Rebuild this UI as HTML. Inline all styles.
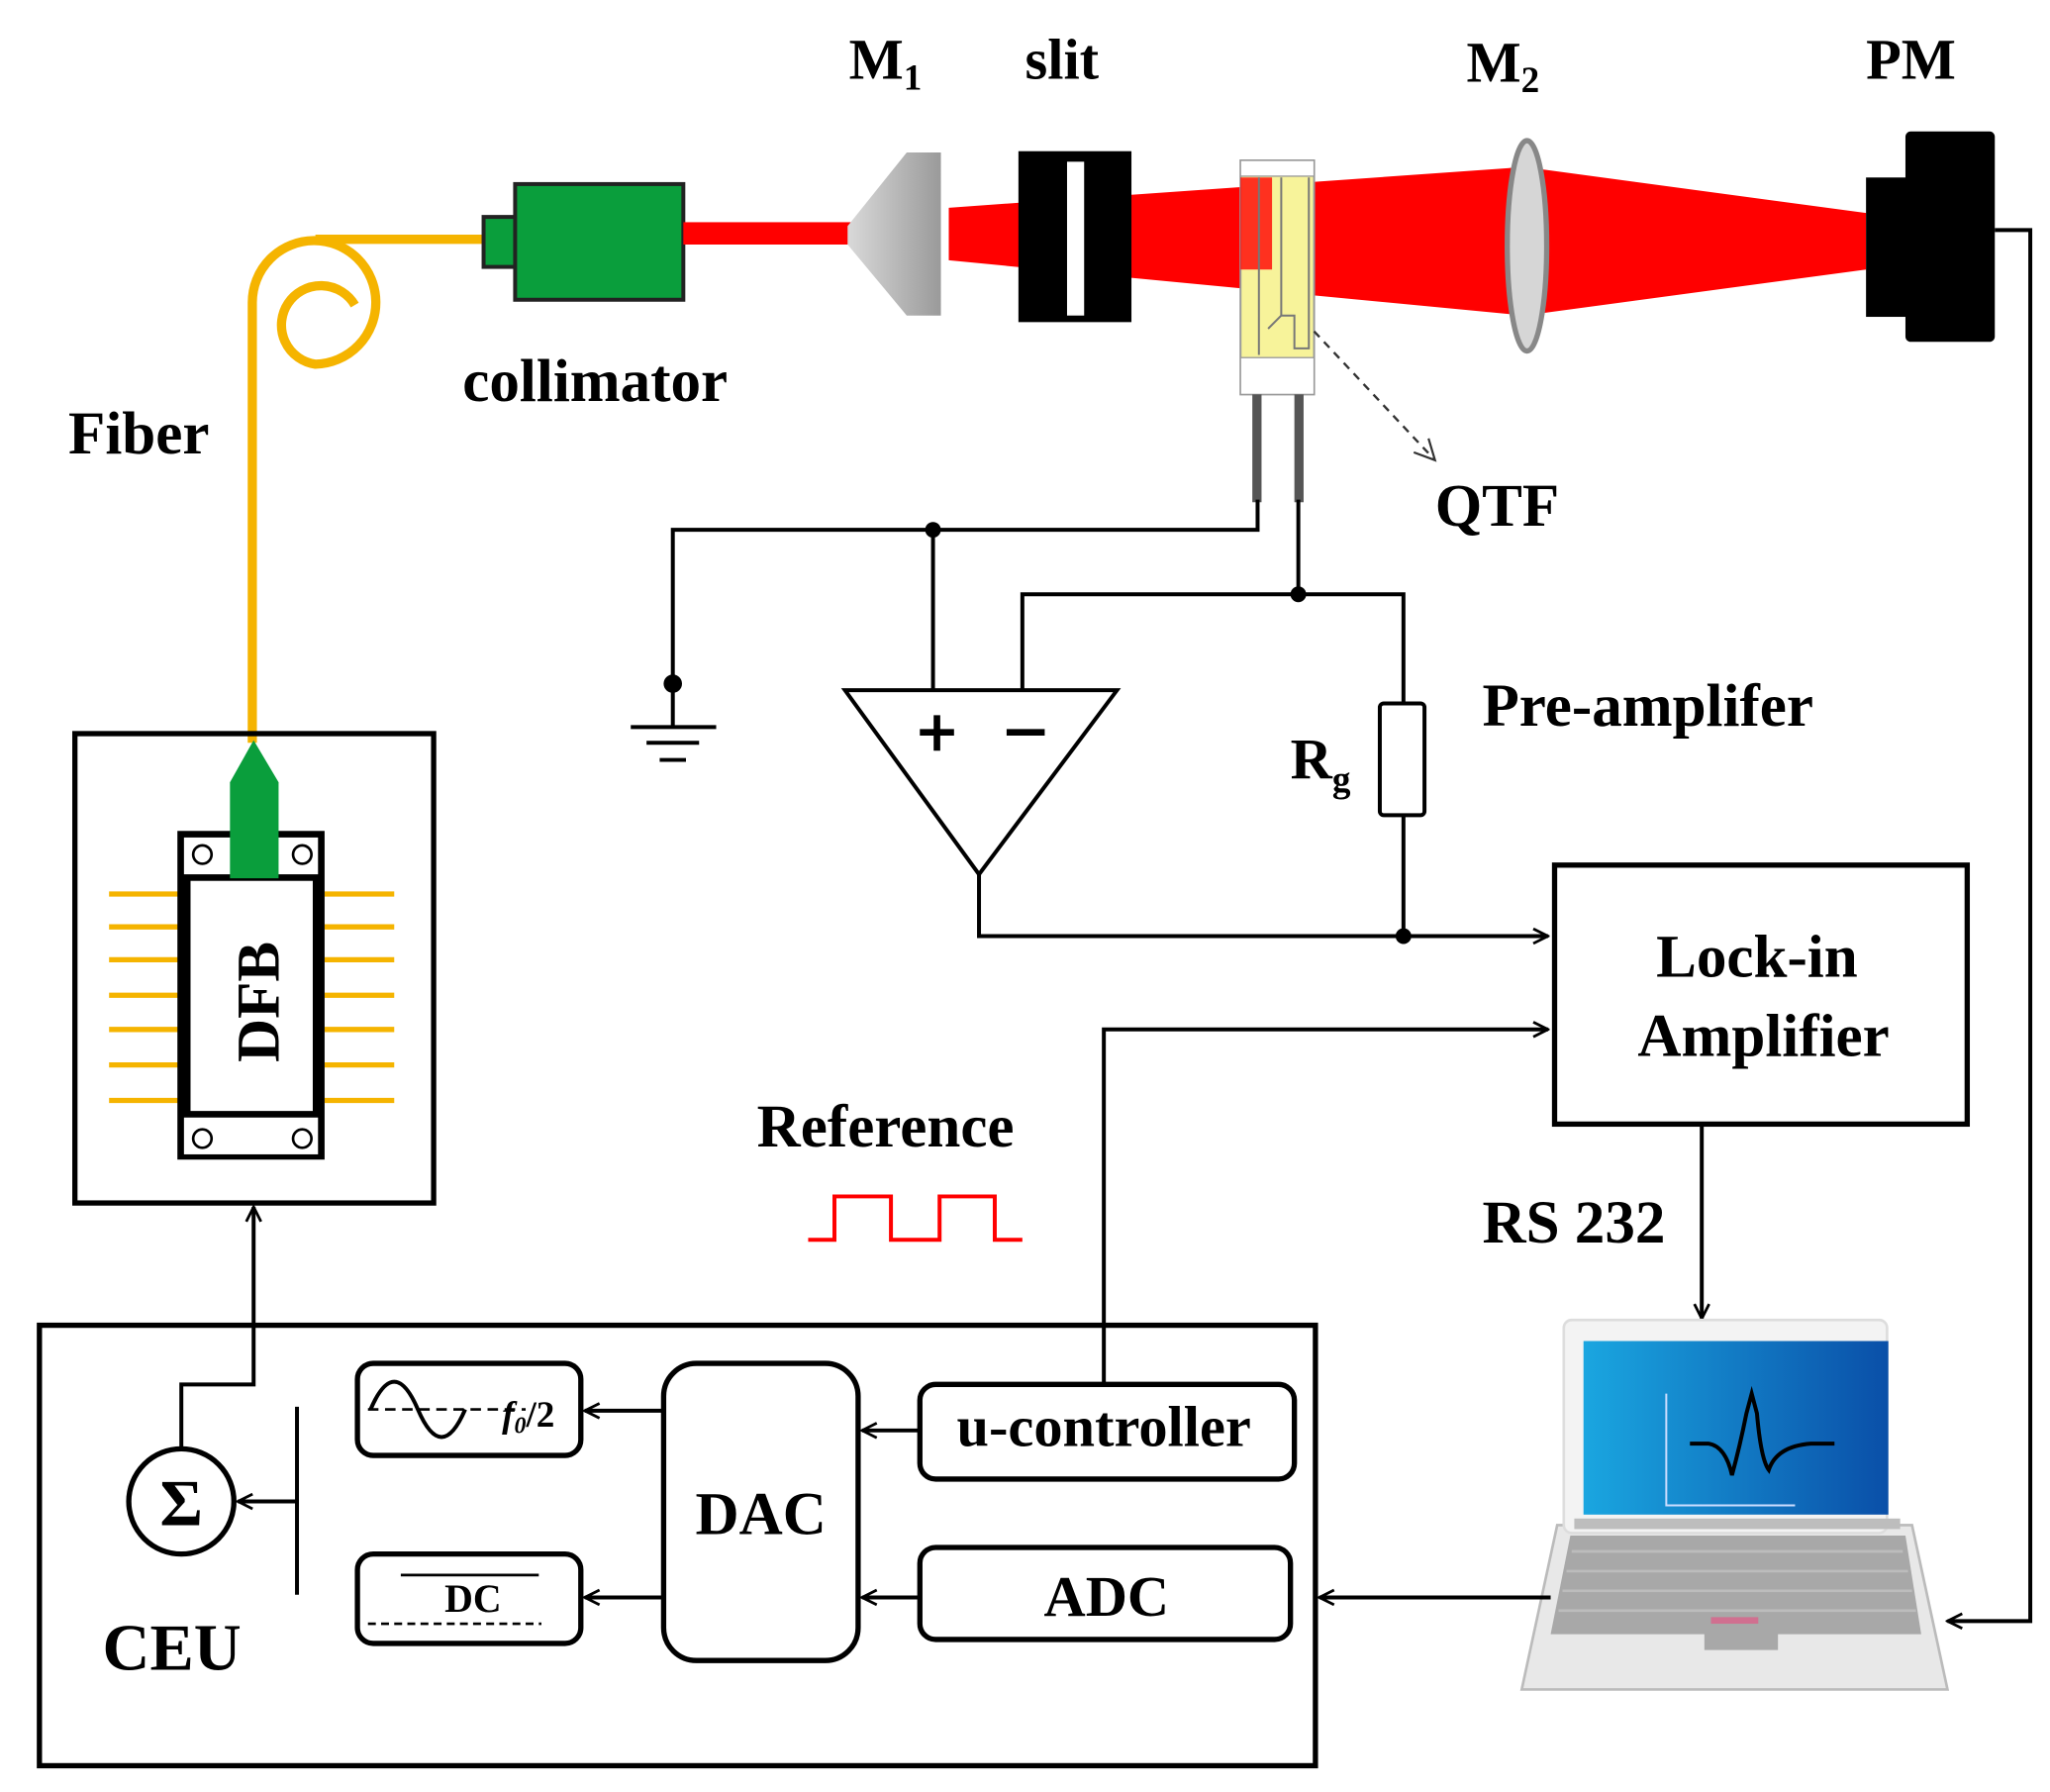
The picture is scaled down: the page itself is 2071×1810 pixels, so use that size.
<!DOCTYPE html>
<html><head><meta charset="utf-8"><style>
html,body{margin:0;padding:0;background:#fff}
svg{display:block}
text{font-family:"Liberation Serif",serif;font-weight:bold;fill:#000}
</style></head><body>
<svg width="2071" height="1810" viewBox="0 0 1560 1363" preserveAspectRatio="none" xmlns="http://www.w3.org/2000/svg">
<defs>
<marker id="ar" viewBox="0 0 20 20" refX="18" refY="10" markerWidth="14" markerHeight="14" markerUnits="userSpaceOnUse" orient="auto">
<polyline points="2,2 18,10 2,18" fill="none" stroke="#000" stroke-width="3"/>
</marker>
<marker id="ard" viewBox="0 0 20 20" refX="18" refY="10" markerWidth="22" markerHeight="22" markerUnits="userSpaceOnUse" orient="auto">
<polyline points="4,3 18,10 4,17" fill="none" stroke="#333" stroke-width="1.5"/>
</marker>
<linearGradient id="scr" x1="0" y1="0" x2="1" y2="0"><stop offset="0" stop-color="#1aa6e0"/><stop offset="1" stop-color="#0a4fa8"/></linearGradient>
<linearGradient id="m1" x1="0" y1="0" x2="1" y2="0"><stop offset="0" stop-color="#d9d9d9"/><stop offset="1" stop-color="#9a9a9a"/></linearGradient>
</defs>

<!-- fiber -->
<g fill="none" stroke="#f5b400" stroke-width="7">
<path d="M192,565 L192,230 A47,47 0 1 1 240,277 A30,30 0 1 1 270,232"/>
<path d="M240,182 L372,182"/>
</g>
<!-- collimator -->
<rect x="368" y="165" width="25" height="38" fill="#0a9e3c" stroke="#222" stroke-width="3"/>
<rect x="392" y="140" width="128" height="88" fill="#0a9e3c" stroke="#222" stroke-width="3"/>
<rect x="520" y="169" width="128" height="17" fill="#f00"/>
<polygon points="645,172 690,116 716,116 716,240 690,240 645,186" fill="url(#m1)"/>
<polygon points="722,158 1160,127 1420,162 1420,205 1160,240 722,198" fill="#f00"/>
<rect x="775" y="115" width="86" height="130" fill="#000"/>
<rect x="812" y="123" width="13" height="117" fill="#fff"/>
<!-- QTF -->
<rect x="944" y="122" width="56" height="178" fill="#f7f39a" stroke="#999" stroke-width="1.5"/>
<rect x="944" y="122" width="56" height="12" fill="#fff" stroke="#999" stroke-width="1"/>
<rect x="944" y="272" width="56" height="28" fill="#fff" stroke="#999" stroke-width="1"/>
<rect x="944" y="135" width="24" height="70" fill="#f00" opacity="0.8"/>
<g stroke="#777" stroke-width="1.5" fill="none">
<path d="M958,135 V270 M975,135 V240 L985,240 V265 L996,265 V135 M965,250 L975,240"/>
</g>
<rect x="953" y="300" width="7" height="82" fill="#555"/>
<rect x="985" y="300" width="7" height="82" fill="#555"/>
<line x1="1000" y1="252" x2="1092" y2="350" stroke="#333" stroke-width="1.8" stroke-dasharray="6,5" marker-end="url(#ard)"/>
<ellipse cx="1162" cy="187" rx="15" ry="80" fill="#d6d6d6" stroke="#888" stroke-width="4"/>
<rect x="1420" y="135" width="32" height="106" fill="#000"/>
<rect x="1450" y="100" width="68" height="160" rx="4" fill="#000"/>

<text x="646" y="60" font-size="44">M<tspan font-size="28" dy="8">1</tspan></text>
<text x="780" y="60" font-size="44">slit</text>
<text x="1116" y="62" font-size="44">M<tspan font-size="28" dy="8">2</tspan></text>
<text x="1420" y="60" font-size="44">PM</text>
<text x="352" y="305" font-size="46">collimator</text>
<text x="52" y="345" font-size="46">Fiber</text>
<text x="1092" y="400" font-size="46">QTF</text>
<text x="1128" y="552" font-size="46">Pre-amplifer</text>
<text x="982" y="592" font-size="44">R<tspan font-size="28" dy="10">g</tspan></text>
<text x="576" y="872" font-size="46">Reference</text>
<text x="1128" y="945" font-size="46">RS 232</text>

<g fill="none" stroke="#000" stroke-width="3">
<path d="M957,380 V403 H512 V553"/>
<path d="M710,403 V525"/>
<path d="M988,380 V452"/>
<path d="M778,525 V452 H1068 V535"/>
<rect x="1050" y="535" width="34" height="85" rx="3"/>
<path d="M1068,620 V712"/>
<polygon points="643,525 850,525 745,665"/>
<path d="M745,665 V712 H1178" marker-end="url(#ar)"/>
<path d="M480,553 H545 M492,565 H532 M502,578 H522"/>
<path d="M700,557 H726 M713,544 V571" stroke-width="5"/>
<path d="M766,557 H795" stroke-width="5"/>
<path d="M840,1055 V783 H1178" marker-end="url(#ar)"/>
<path d="M1295,855 V1003" marker-end="url(#ar)"/>
<path d="M1518,175 H1545 V1233 H1482" marker-end="url(#ar)"/>
</g>
<g fill="#000">
<circle cx="710" cy="403" r="6"/><circle cx="988" cy="452" r="6"/><circle cx="1068" cy="712" r="6"/><circle cx="512" cy="520" r="7"/>
</g>
<rect x="1183" y="658" width="314" height="197" fill="none" stroke="#000" stroke-width="4"/>
<text x="1337" y="743" font-size="46" text-anchor="middle">Lock-in</text>
<text x="1342" y="803" font-size="46" text-anchor="middle">Amplifier</text>
<polyline points="615,943 635,943 635,910 678,910 678,943 715,943 715,910 757,910 757,943 778,943" fill="none" stroke="#f00" stroke-width="3"/>

<!-- laptop -->
<polygon points="1185,1160 1455,1160 1482,1285 1158,1285" fill="#e8e8e8" stroke="#bbb" stroke-width="2"/>
<polygon points="1195,1168 1450,1168 1462,1243 1180,1243" fill="#a8a8a8"/>
<g stroke="#bcbcbc" stroke-width="2">
<path d="M1196,1180 H1448 M1192,1195 H1452 M1189,1210 H1455 M1186,1225 H1458"/>
</g>
<rect x="1297" y="1233" width="56" height="22" fill="#a8a8a8"/>
<rect x="1302" y="1230" width="36" height="5" fill="#d07090"/>
<rect x="1190" y="1004" width="246" height="162" rx="6" fill="#f3f3f3" stroke="#ddd" stroke-width="2"/>
<rect x="1205" y="1020" width="232" height="132" fill="url(#scr)"/>
<rect x="1198" y="1155" width="248" height="8" fill="#bdbdbd"/>
<g fill="none" stroke="#cdf" stroke-width="1.5"><path d="M1268,1060 V1145 H1366"/></g>
<path d="M1286,1098 H1300 Q1313,1100 1318,1122 Q1324,1100 1329,1075 L1333,1060 L1337,1075 Q1340,1110 1346,1118 Q1352,1100 1378,1098 H1396" fill="none" stroke="#000" stroke-width="3"/>

<!-- DFB -->
<rect x="57" y="558" width="273" height="357" fill="none" stroke="#000" stroke-width="4"/>
<g stroke="#f5b400" stroke-width="4">
<path d="M83,680 H137 M83,705 H137 M83,730 H137 M83,757 H137 M83,783 H137 M83,810 H137 M83,837 H137"/>
<path d="M247,680 H300 M247,705 H300 M247,730 H300 M247,757 H300 M247,783 H300 M247,810 H300 M247,837 H300"/>
</g>
<rect x="135" y="632" width="112" height="250" fill="#000"/>
<rect x="140" y="637" width="102" height="28" fill="#fff"/>
<rect x="140" y="850" width="102" height="28" fill="#fff"/>
<rect x="145" y="670" width="93" height="175" fill="#fff"/>
<g fill="none" stroke="#000" stroke-width="2">
<circle cx="154" cy="650" r="7"/><circle cx="230" cy="650" r="7"/><circle cx="154" cy="866" r="7"/><circle cx="230" cy="866" r="7"/>
</g>
<polygon points="175,668 175,595 193,563 212,595 212,668" fill="#0a9e3c"/>
<text x="0" y="0" font-size="46" transform="translate(212,762) rotate(-90)" text-anchor="middle">DFB</text>

<!-- CEU -->
<rect x="30" y="1008" width="971" height="335" fill="none" stroke="#000" stroke-width="4"/>
<g fill="none" stroke="#000" stroke-width="3">
<circle cx="138" cy="1142" r="40" stroke-width="4"/>
<path d="M138,1102 V1053 H193 V918" marker-end="url(#ar)"/>
<path d="M226,1070 V1213"/>
<path d="M226,1142 H181" marker-end="url(#ar)"/>
<rect x="272" y="1037" width="170" height="70" rx="12" stroke-width="4"/>
<rect x="272" y="1182" width="170" height="68" rx="12" stroke-width="4"/>
<rect x="505" y="1037" width="148" height="226" rx="25" stroke-width="4"/>
<rect x="700" y="1053" width="285" height="72" rx="12" stroke-width="4"/>
<rect x="700" y="1177" width="282" height="70" rx="12" stroke-width="4"/>
<path d="M505,1073 H445" marker-end="url(#ar)"/>
<path d="M505,1215 H445" marker-end="url(#ar)"/>
<path d="M700,1088 H656" marker-end="url(#ar)"/>
<path d="M700,1215 H656" marker-end="url(#ar)"/>
<path d="M1180,1215 H1004" marker-end="url(#ar)"/>
<path d="M282,1072 Q300,1030 318,1072 T354,1072" stroke-width="3"/>
<path d="M280,1072 H400" stroke-dasharray="8,5" stroke-width="2"/>
<path d="M305,1198 H410" stroke-width="2"/>
<path d="M280,1235 H412" stroke-dasharray="6,4" stroke-width="2"/>
</g>
<text x="138" y="1160" font-size="50" text-anchor="middle" font-weight="normal">Σ</text>
<text x="78" y="1270" font-size="50">CEU</text>
<text x="382" y="1085" font-size="28" font-style="italic">f<tspan font-size="18" dy="5">0</tspan><tspan dy="-5" font-style="normal">/2</tspan></text>
<text x="360" y="1226" font-size="30" text-anchor="middle">DC</text>
<text x="579" y="1167" font-size="46" text-anchor="middle">DAC</text>
<text x="840" y="1100" font-size="44" text-anchor="middle">u-controller</text>
<text x="842" y="1229" font-size="44" text-anchor="middle">ADC</text>
</svg>
</body></html>
